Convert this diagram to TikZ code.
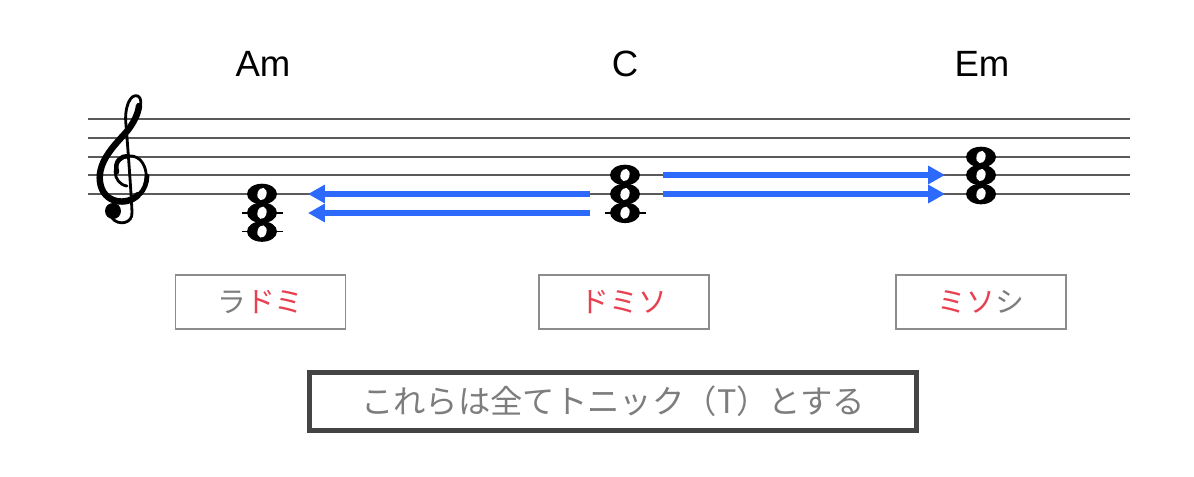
\documentclass[tikz,border=0pt]{standalone}
\usepackage{fontspec}
\setmainfont{Liberation Sans}
\newfontfamily\jpfont{Noto Sans CJK JP}
\usetikzlibrary{arrows.meta}
\definecolor{arrowblue}{RGB}{45,105,250}
\definecolor{tonered}{RGB}{232,64,80}
\definecolor{textgray}{RGB}{125,125,125}
\definecolor{boxgray}{RGB}{140,140,140}
\definecolor{framedark}{RGB}{68,68,68}
\definecolor{staffgray}{RGB}{90,90,90}

% whole note head at (x,y)
\newcommand{\wnote}[2]{%
  \fill (#1,#2) ellipse (15 and 10.3);
  \fill[white,rotate around={-15:(#1,#2)}] (#1,#2) ellipse (4.5 and 6.3);}

\begin{document}
\begin{tikzpicture}[x=0.025cm,y=-0.025cm,
  chord name/.style={font=\fontsize{26}{30}\selectfont},
  tone box/.style={draw=boxgray,line width=1pt,minimum width=4.25cm,minimum height=1.35cm,
    inner sep=0pt,font=\jpfont\fontsize{20.5}{24}\selectfont,text=textgray},
  note box/.style={draw=framedark,line width=3.5pt,minimum width=15.175cm,minimum height=1.45cm,
    inner sep=0pt,font=\jpfont\fontsize{23}{26}\selectfont,text=textgray},
  staff line/.style={line width=1pt,draw=staffgray},
  ledger/.style={line width=1.2pt,draw=black},
  clef line/.style={line width=2pt,line cap=round,line join=round},
  move/.style={-{Triangle[length=12pt,width=12.5pt]},line width=4.3pt,draw=arrowblue}]

  \useasboundingbox (0,0) rectangle (1194,476);

  % staff
  \foreach \y in {119,138,157,175,194}
    \draw[staff line] (88,\y) -- (1130,\y);

  % treble clef
  \draw[clef line] (127,186) .. controls (112,184) and (110,160) .. (128,156)
    .. controls (146,154) and (152,180) .. (140,194)
    .. controls (128,207) and (103,204) .. (100,182)
    .. controls (97,160) and (118,142) .. (128,130)
    .. controls (138,118) and (145,100) .. (138,96)
    .. controls (130,93) and (124,108) .. (126,125)
    .. controls (128,150) and (131,190) .. (132,212)
    .. controls (133,224) and (118,226) .. (112,218);
  \draw[clef line,line width=4.6pt] (138,195)
    .. controls (127,206) and (103,204) .. (100,182)
    .. controls (97,160) and (118,142) .. (128,130)
    .. controls (134,122) and (138,114) .. (139,106);
  \draw[clef line,line width=3.4pt] (147,176) .. controls (147,183) and (144,190) .. (140,194);
  \draw[clef line,line width=3.2pt] (117,172) .. controls (114,161) and (121,156) .. (128,156);
  \fill (113,211) circle (8);

  % chord names
  \node[chord name] (am) at (263,64) {Am};
  \node[chord name] (c) at (625,64) {C};
  \node[chord name] (em) at (982,64) {Em};

  % Am
  \draw[ledger] (242,212.75) -- (283,212.75);
  \draw[ledger] (242,231.5) -- (283,231.5);
  \wnote{262}{194} \wnote{262}{212.75} \wnote{262}{231.5}

  % C
  \draw[ledger] (605,212.75) -- (646,212.75);
  \wnote{625}{175} \wnote{625}{194} \wnote{625}{212.75}

  % Em
  \wnote{981}{157} \wnote{981}{175} \wnote{981}{194}

  \coordinate (c-out-hi) at (590,194);
  \coordinate (c-out-lo) at (590,213);
  \coordinate (am-in-hi) at (308,194);
  \coordinate (am-in-lo) at (308,213);
  \coordinate (c-out-r1) at (663,175);
  \coordinate (c-out-r2) at (663,194);
  \coordinate (em-in-1) at (945,175);
  \coordinate (em-in-2) at (945,194);

  \draw[move] (c-out-hi) -- (am-in-hi);
  \draw[move] (c-out-lo) -- (am-in-lo);
  \draw[move] (c-out-r1) -- (em-in-1);
  \draw[move] (c-out-r2) -- (em-in-2);

  % tones
  \node[tone box] (la-do-mi) at (260.5,302) {ラ\textcolor{tonered}{ドミ}};
  \node[tone box] (do-mi-so) at (624,302) {\textcolor{tonered}{ドミソ}};
  \node[tone box] (mi-so-si) at (981,302) {\textcolor{tonered}{ミソ}シ};

  \node[note box] (tonic) at (613,401.5) {これらは全てトニック（T）とする};
\end{tikzpicture}
\end{document}
